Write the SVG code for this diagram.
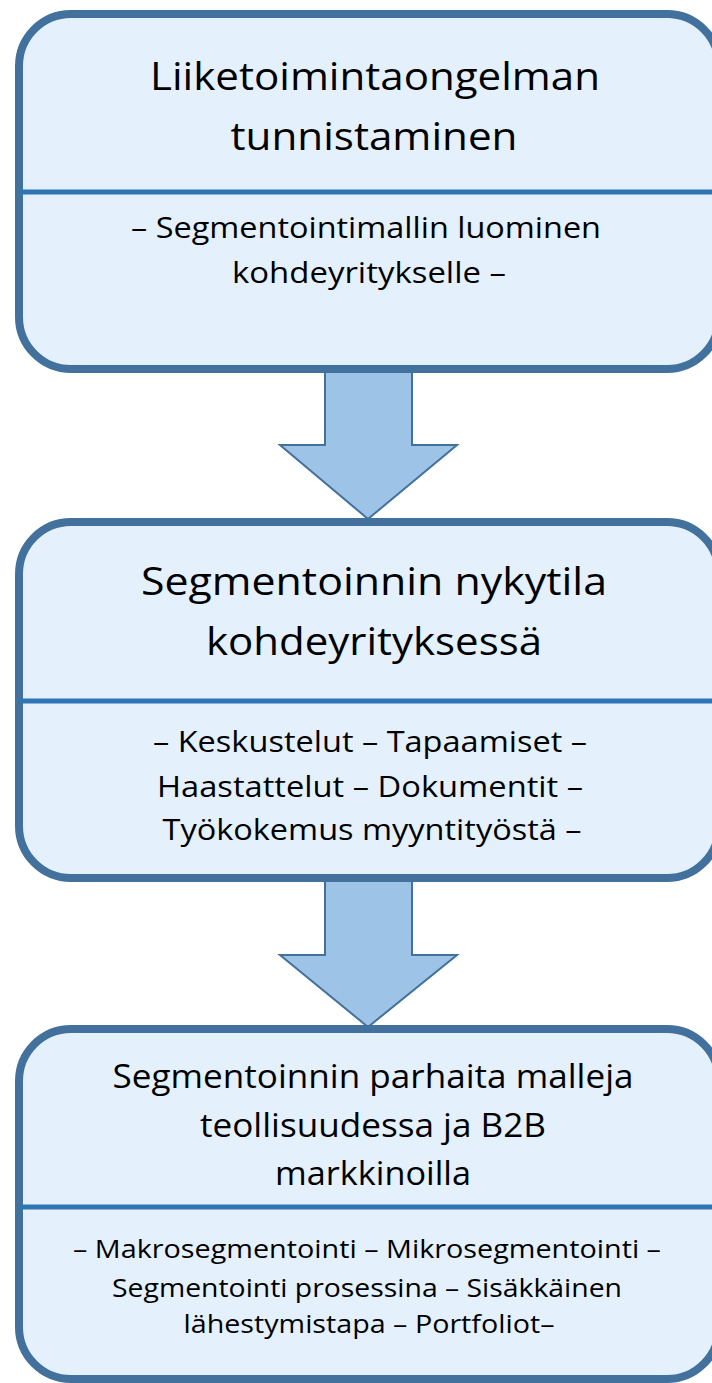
<svg xmlns="http://www.w3.org/2000/svg" width="712" height="1383" viewBox="0 0 712 1383">
  <style>
    .box { fill: #e4f0fc; stroke: #41719c; stroke-width: 8; }
    .rule { stroke: #2e75b6; stroke-width: 5; }
    .arrow { fill: #9dc3e6; stroke: #41719c; stroke-width: 2; stroke-linejoin: miter; }
    text { font-family: "Open Sans", Lato, sans-serif; fill: #000; text-anchor: middle; font-variant-ligatures: none; }
    .title { font-size: 38px; }
    .body { font-size: 29px; }
    .title3 { font-size: 32px; }
    .body3 { font-size: 26px; }
  </style>
  <rect width="712" height="1383" fill="#ffffff"/>

  <!-- block arrows between the stages -->
  <g id="connectors">
    <polygon class="arrow" points="325,370 412,370 412,445 457,445 368,519 280,445 325,445"/>
    <polygon class="arrow" points="325,878 412,878 412,955 457,955 368,1027 280,955 325,955"/>
  </g>

  <g id="stage1">
    <rect class="box" x="19" y="14" width="700" height="355" rx="52"/>
    <line class="rule" x1="19" y1="192" x2="712" y2="192"/>
    <text class="title" x="375" y="90" textLength="450" lengthAdjust="spacingAndGlyphs">Liiketoimintaongelman</text>
    <text class="title" x="374" y="150" textLength="287" lengthAdjust="spacingAndGlyphs">tunnistaminen</text>
    <text class="body" x="366" y="238" textLength="470" lengthAdjust="spacingAndGlyphs">– Segmentointimallin luominen</text>
    <text class="body" x="369" y="283" textLength="274" lengthAdjust="spacingAndGlyphs">kohdeyritykselle –</text>
  </g>

  <g id="stage2">
    <rect class="box" x="19" y="522" width="700" height="356" rx="52"/>
    <line class="rule" x1="19" y1="701" x2="712" y2="701"/>
    <text class="title" x="374" y="595" textLength="466" lengthAdjust="spacingAndGlyphs">Segmentoinnin nykytila</text>
    <text class="title" x="374" y="655" textLength="336" lengthAdjust="spacingAndGlyphs">kohdeyrityksessä</text>
    <text class="body" x="370" y="752" textLength="434" lengthAdjust="spacingAndGlyphs">– Keskustelut – Tapaamiset –</text>
    <text class="body" x="370" y="797" textLength="426" lengthAdjust="spacingAndGlyphs">Haastattelut – Dokumentit –</text>
    <text class="body" x="372" y="840" textLength="419" lengthAdjust="spacingAndGlyphs">Työkokemus myyntityöstä –</text>
  </g>

  <g id="stage3">
    <rect class="box" x="19" y="1029" width="700" height="350" rx="52"/>
    <line class="rule" x1="19" y1="1207" x2="712" y2="1207"/>
    <text class="title3" x="373" y="1088" textLength="521" lengthAdjust="spacingAndGlyphs">Segmentoinnin parhaita malleja</text>
    <text class="title3" x="373" y="1137" textLength="346" lengthAdjust="spacingAndGlyphs">teollisuudessa ja B2B</text>
    <text class="title3" x="373" y="1185" textLength="196" lengthAdjust="spacingAndGlyphs">markkinoilla</text>
    <text class="body3" x="367" y="1258" textLength="588" lengthAdjust="spacingAndGlyphs">– Makrosegmentointi – Mikrosegmentointi –</text>
    <text class="body3" x="367" y="1297" textLength="510" lengthAdjust="spacingAndGlyphs">Segmentointi prosessina – Sisäkkäinen</text>
    <text class="body3" x="369" y="1333" textLength="371" lengthAdjust="spacingAndGlyphs">lähestymistapa – Portfoliot–</text>
  </g>
</svg>
